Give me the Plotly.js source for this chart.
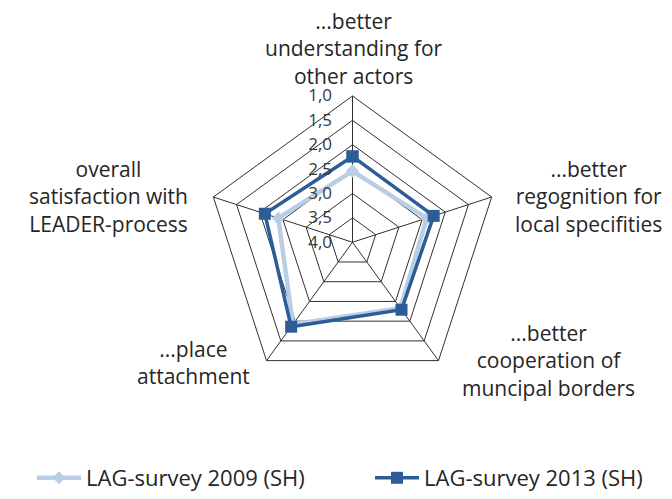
<!DOCTYPE html>
<html>
<head>
<meta charset="utf-8">
<script src="https://cdn.plot.ly/plotly-3.0.1.min.js"></script>
<style>
  html, body { margin: 0; padding: 0; background: #fff; }
  #chart { width: 672px; height: 499px; }
</style>
</head>
<body>
<div id="chart"></div>
<script>
// ---- data ----
const categories = [
  "...better<br>understanding for<br>other actors",
  "...better<br>regognition for<br>local specifities",
  "...better<br>cooperation of<br>muncipal borders",
  "...place<br>attachment",
  "overall<br>satisfaction with<br>LEADER-process"
];
const series2009 = [2.54, 2.40, 2.33, 1.92, 2.40];
const series2013 = [2.24, 2.25, 2.29, 1.86, 2.11];
const seriesNames = ["LAG-survey 2009 (SH)", "LAG-survey 2013 (SH)"];
const tickValues = [1.0, 1.5, 2.0, 2.5, 3.0, 3.5, 4.0];
const tickLabels = ["1,0", "1,5", "2,0", "2,5", "3,0", "3,5", "4,0"];

// ---- layout helpers ----
const W = 672, H = 499;
const FONT = "'Open Sans', Lato, sans-serif";
const labelCenters = [
  {x: 354, y: 49},
  {x: 588, y: 200},
  {x: 548, y: 367},
  {x: 194, y: 369},
  {x: 108, y: 200}
];

function closed(arr) { return arr.concat([arr[0]]); }

const traces = [
  {
    type: "scatterpolar",
    name: seriesNames[0],
    legend: "legend",
    theta: closed(categories),
    r: closed(series2009),
    mode: "lines+markers",
    line: {color: "#b9cde5", width: 4.5},
    marker: {symbol: "diamond", size: 10, color: "#b9cde5"},
    cliponaxis: false
  },
  {
    type: "scatterpolar",
    name: seriesNames[1],
    legend: "legend2",
    theta: closed(categories),
    r: closed(series2013),
    mode: "lines+markers",
    line: {color: "#2c5d96", width: 3.5},
    marker: {symbol: "square", size: 12, color: "#2c5d96"},
    cliponaxis: false
  }
];

const annotations = categories.map((cat, i) => ({
  xref: "paper", yref: "paper",
  x: labelCenters[i].x / W,
  y: 1 - labelCenters[i].y / H,
  xanchor: "center", yanchor: "middle",
  align: "center",
  text: cat, showarrow: false,
  font: {family: FONT, size: 21, color: "#262626"}
}));

const legendCommon = {
  orientation: "h",
  xanchor: "left",
  y: 1 - 487 / H, yanchor: "middle",
  itemwidth: 44,
  font: {family: FONT, size: 22, color: "#262626"},
  bgcolor: "rgba(0,0,0,0)"
};

const cx = 352.5, cy = 246.7, R = 149;
const layout = {
  width: W, height: H,
  margin: {l: 0, r: 0, t: 0, b: 0},
  paper_bgcolor: "#ffffff",
  plot_bgcolor: "#ffffff",
  font: {family: FONT, color: "#262626"},
  showlegend: true,
  legend: Object.assign({}, legendCommon, {x: 32 / W}),
  legend2: Object.assign({}, legendCommon, {x: 370 / W}),
  polar: {
    domain: {
      x: [(cx - R) / W, (cx + R) / W],
      y: [1 - (cy + R) / H, 1 - (cy - R) / H]
    },
    gridshape: "linear",
    bgcolor: "#ffffff",
    radialaxis: {
      range: [4, 1],
      angle: 90,
      side: "counterclockwise",
      tickvals: tickValues,
      ticktext: tickLabels,
      tickangle: 90,
      ticks: "outside",
      ticklen: 14,
      tickcolor: "rgba(0,0,0,0)",
      showline: false,
      showgrid: true,
      gridcolor: "#303030",
      gridwidth: 1,
      tickfont: {family: FONT, size: 17, color: "#383838"}
    },
    angularaxis: {
      direction: "clockwise",
      rotation: 90,
      showticklabels: false,
      ticks: "",
      showline: true,
      linecolor: "#303030",
      linewidth: 1,
      showgrid: true,
      gridcolor: "#303030",
      gridwidth: 1
    }
  },
  annotations: annotations
};

Plotly.newPlot("chart", traces, layout, {displayModeBar: false, staticPlot: true});
</script>
</body>
</html>
